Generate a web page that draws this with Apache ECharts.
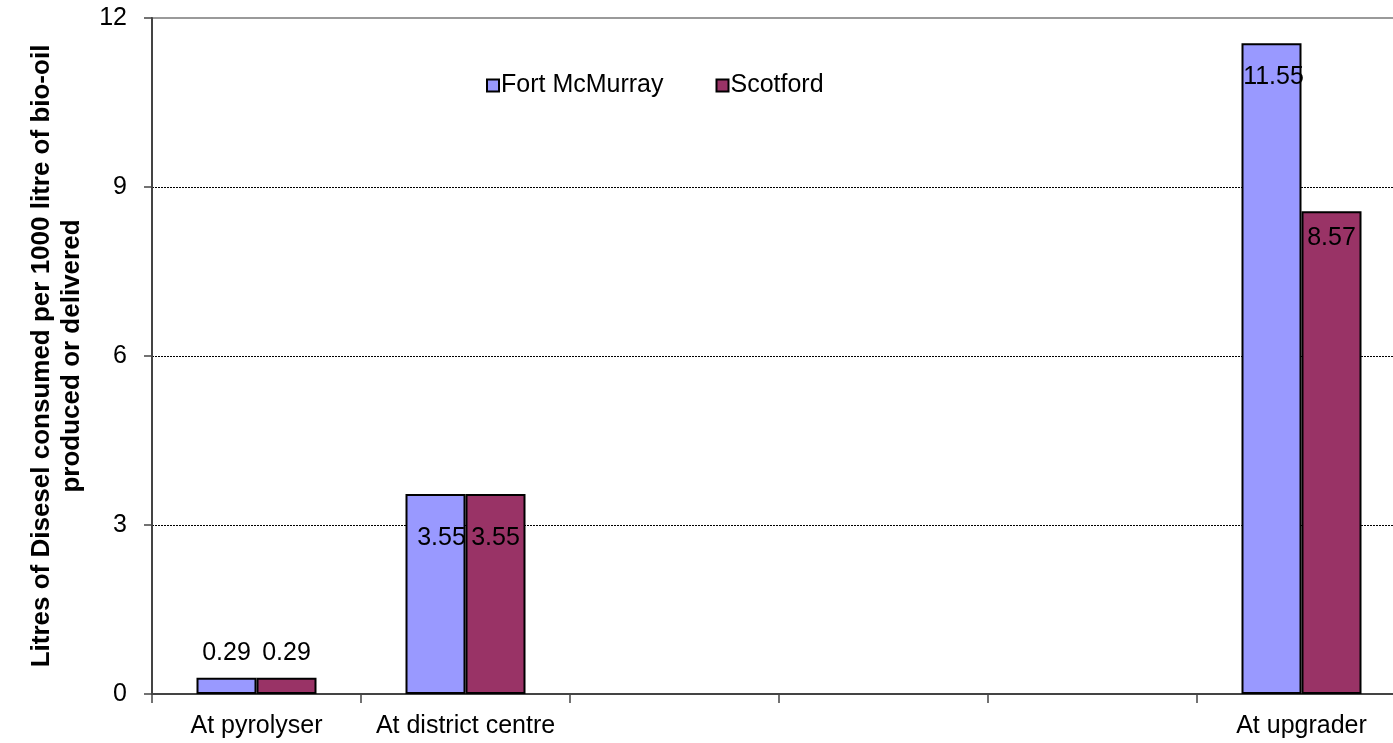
<!DOCTYPE html>
<html>
<head>
<meta charset="utf-8">
<script src="https://cdn.jsdelivr.net/npm/echarts@6/dist/echarts.min.js"></script>
<style>
  html, body { margin: 0; padding: 0; background: #fff; }
  #chart { width: 1393px; height: 743px; }
</style>
</head>
<body>
<div id="chart"></div>
<script>
// Diesel use per 1000 litres of bio-oil, by stage of the supply chain
const categories = ['At pyrolyser', 'At district centre', '', '', '', 'At upgrader'];
const fortMcMurray = [0.29, 3.55, null, null, null, 11.55];
const scotford = [0.29, 3.55, null, null, null, 8.57];
const yTicks = { min: 0, max: 12, interval: 3 };
const yTitle = 'Litres of Disesel consumed per 1000 litre of bio-oil\nproduced or delivered';

const FONT = 'Liberation Sans, Arial, sans-serif';
const FS = 25;

// Label placement for each bar: small bars carry the value above, tall ones inside the top
function labelled(values, spots) {
  return values.map((v, i) => {
    if (v == null) return null;
    const s = spots[i];
    return {
      value: v,
      label: { position: s.pos, distance: s.d, offset: s.off || [0, 0] }
    };
  });
}

const chart = echarts.init(document.getElementById('chart'), null, { renderer: 'canvas' });

const labelBase = {
  show: true,
  color: '#000',
  fontFamily: FONT,
  fontSize: FS
};

chart.setOption({
  animation: false,
  backgroundColor: '#fff',
  grid: {
    left: 152,
    top: 18,
    width: 1254,
    height: 676,
    outerBoundsMode: 'none',
    containLabel: false,
    show: true,
    borderColor: '#9a9a9a',
    borderWidth: 2,
    backgroundColor: 'transparent'
  },
  legend: {
    left: 481,
    top: 68,
    itemWidth: 12,
    itemHeight: 12,
    itemGap: 52,
    icon: 'rect',
    textStyle: { fontFamily: FONT, fontSize: FS, color: '#000', padding: [0, 0, 0, -3] },
    data: ['Fort McMurray', 'Scotford']
  },
  xAxis: {
    type: 'category',
    data: categories,
    axisLine: { lineStyle: { color: '#444', width: 2 } },
    axisTick: { show: true, length: 9, lineStyle: { color: '#444', width: 1.5 } },
    axisLabel: { color: '#000', fontFamily: FONT, fontSize: FS, margin: 20, interval: 0 }
  },
  yAxis: {
    type: 'value',
    min: yTicks.min,
    max: yTicks.max,
    interval: yTicks.interval,
    name: yTitle,
    nameLocation: 'middle',
    nameGap: 65,
    nameRotate: 90,
    nameTextStyle: {
      fontFamily: FONT, fontSize: 26, fontWeight: 'bold', color: '#000', lineHeight: 30
    },
    axisLine: { show: true, lineStyle: { color: '#444', width: 2 } },
    axisTick: { show: true, length: 8, lineStyle: { color: '#444', width: 1.5 } },
    axisLabel: { color: '#000', fontFamily: FONT, fontSize: FS, margin: 25 },
    splitLine: {
      show: true,
      showMaxLine: false,
      lineStyle: { color: '#000', width: 1, type: [2, 1] }
    }
  },
  series: [
    {
      name: 'Fort McMurray',
      type: 'bar',
      barWidth: 60,
      barGap: '0%',
      itemStyle: { color: '#9999FF', borderColor: '#000', borderWidth: 2 },
      label: labelBase,
      data: labelled(fortMcMurray, [
        { pos: 'top', d: 12 },
        { pos: 'insideTop', d: 32, off: [6, 0] },
        null, null, null,
        { pos: 'insideTop', d: 21, off: [2, 0] }
      ])
    },
    {
      name: 'Scotford',
      type: 'bar',
      barWidth: 60,
      itemStyle: { color: '#993366', borderColor: '#000', borderWidth: 2 },
      label: labelBase,
      data: labelled(scotford, [
        { pos: 'top', d: 12 },
        { pos: 'insideTop', d: 32 },
        null, null, null,
        { pos: 'insideTop', d: 14 }
      ])
    }
  ]
});
</script>
</body>
</html>
